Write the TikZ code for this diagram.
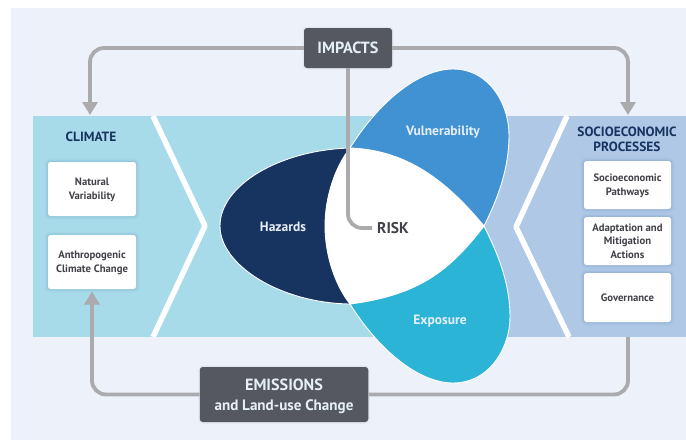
\documentclass[tikz,border=0pt]{standalone}
\usepackage{fontspec}
\setmainfont{PT Sans}
\usetikzlibrary{arrows.meta}
\definecolor{pagebg}{HTML}{EDF2FA}
\definecolor{cyanband}{HTML}{A7DBEA}
\definecolor{blueband}{HTML}{AEC8E6}
\definecolor{navy}{HTML}{17335F}
\definecolor{vuln}{HTML}{4092D2}
\definecolor{expo}{HTML}{2CB4D6}
\definecolor{slate}{HTML}{55585E}
\definecolor{conn}{HTML}{ABABAE}
\definecolor{boxtext}{HTML}{404248}
\definecolor{lighttext}{HTML}{E6EFF8}
\definecolor{glowblue}{HTML}{3A6A9A}
\tikzset{
  x=1pt,y=-1pt,
  softglow/.style={
    preaction={draw=#1,draw opacity=.04,line width=7pt,rounded corners=4pt},
    preaction={draw=#1,draw opacity=.06,line width=4pt,rounded corners=4pt},
    preaction={draw=#1,draw opacity=.08,line width=2pt,rounded corners=4pt}},
  card/.style={softglow=glowblue,fill=white,rounded corners=2.5pt,inner sep=0pt,text depth=0pt,
    align=center,text=boxtext,font=\bfseries\fontsize{10.7}{13.8}\selectfont,minimum width=#1},
  card/.default=88pt,
  darkbox/.style={fill=slate,rounded corners=3pt,inner sep=0pt,align=center,text=lighttext,
    preaction={draw=black,draw opacity=.04,line width=3pt,rounded corners=3pt}},
  blob/.style={draw=white,line width=.9pt},
  chevron/.style={draw=white,line width=5.5pt,line join=round},
  link/.style={draw=conn,line width=3.8pt,rounded corners=14pt},
  linktip/.style={link,-{Triangle[width=15pt,length=13pt]}},
  head/.style={text=navy,align=center,font=\bfseries\fontsize{13.4}{15}\selectfont},
  blobtext/.style={text=lighttext,font=\bfseries\fontsize{13.5}{14}\selectfont}
}
\begin{document}
\begin{tikzpicture}
\useasboundingbox (0,0) rectangle (686,440);
\fill[white] (0,0) rectangle (686,440);
\fill[pagebg] (11,8) rectangle (686,440);
% bands
\fill[cyanband] (33,116) rectangle (432,337);
\fill[blueband] (432,116) rectangle (686,337);
\draw[chevron] (153,116) -- (205,226) -- (153,337);
\draw[chevron] (567,116) -- (516,227) -- (569,337);
\coordinate (climatetop) at (90,115);
\coordinate (socioTop) at (628,115);
\coordinate (socioBottom) at (628,337);
% petals
\draw[blob,fill=navy] (350,148) .. controls (280,150) and (220,185) .. (220,226)
  .. controls (220,265) and (280,303) .. (350,304) -- cycle;
\draw[blob,fill=vuln] (350,148) .. controls (380,100) and (420,69) .. (453,69)
  .. controls (490,69) and (509,105) .. (509,135)
  .. controls (509,170) and (497,200) .. (484,226) -- cycle;
\draw[blob,fill=expo] (350,304) .. controls (380,352) and (420,383) .. (453,383)
  .. controls (490,383) and (510,347) .. (510,317)
  .. controls (510,282) and (497,252) .. (484,226) -- cycle;
\draw[blob,fill=white] (350,148) .. controls (410,150) and (450,185) .. (484,226)
  .. controls (450,270) and (420,295) .. (350,304)
  .. controls (335,285) and (325,255) .. (325,226)
  .. controls (325,197) and (335,167) .. (350,148) -- cycle;
% connectors' free ends
\coordinate (anthroIn) at (92,291.5);
% nodes
\node[darkbox,minimum width=88pt,minimum height=40pt,font=\bfseries\fontsize{16.2}{18}\selectfont] (impacts) at (348,48) {IMPACTS};
\node[darkbox,text depth=0pt,minimum width=168.5pt,minimum height=55pt,font=\bfseries\fontsize{15}{20}\selectfont] (emissions) at (284,394.5)
  {{\fontsize{16.2}{20}\selectfont EMISSIONS}\\{\fontsize{15.1}{20}\selectfont and Land-use Change}};
\node[text=boxtext,font=\bfseries\fontsize{15.5}{18}\selectfont,anchor=west,inner sep=0pt] (risk) at (377,228) {RISK};
\node[blobtext] (hazards) at (283,226.5) {Hazards};
\node[blobtext] (vulnerability) at (443,132.5) {Vulnerability};
\node[blobtext] (exposure) at (440,321.5) {Exposure};
\node[head] (climate) at (91,137) {CLIMATE};
\node[head] (socio) at (627,139.5) {SOCIOECONOMIC\\PROCESSES};
\node[card,minimum height=54pt] (natural) at (92,189) {Natural\\Variability};
\node[card,minimum height=54pt] (anthro) at (92,262) {Anthropogenic\\Climate Change};
\node[card=87pt,minimum height=48pt] (pathways) at (627.5,185) {Socioeconomic\\Pathways};
\node[card=87pt,minimum height=48pt] (adaptation) at (627.5,241) {Adaptation and\\Mitigation\\Actions};
\node[card=87pt,minimum height=49pt] (governance) at (627.5,297.5) {Governance};
% connectors
\draw[linktip] (impacts.west) -| (climatetop);
\draw[linktip] (impacts.east) -| (socioTop);
\draw[link] (impacts.south) |- ([xshift=-5pt]risk.west);
\draw[linktip] (emissions.west) -| (anthroIn);
\draw[link] (emissions.east) -| (socioBottom);
\end{tikzpicture}
\end{document}
